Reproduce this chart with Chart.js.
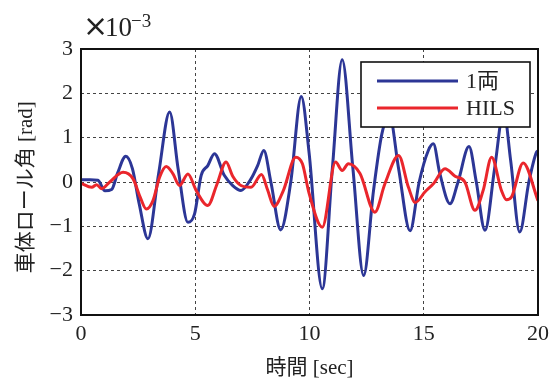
<!DOCTYPE html>
<html>
<head>
<meta charset="utf-8">
<script src="https://cdn.jsdelivr.net/npm/chart.js@4/dist/chart.umd.min.js"></script>
<style>
  body { margin: 0; background: #fff; }
  #wrap { width: 555px; height: 381px; }
</style>
</head>
<body>
<div id="wrap"><canvas id="rollChart" width="555" height="381"></canvas></div>
<script>
// 時間 [sec] と 車体ロール角 [×10^-3 rad]
const singleTime = [0, 0.4, 0.74, 1.05, 1.34, 1.6, 1.96, 2.25, 2.55, 2.93, 3.4, 3.88, 4.25, 4.68, 4.97, 5.26, 5.55, 5.84, 6.27, 6.64, 7.0, 7.44, 7.73, 8.0, 8.31, 8.74, 9.18, 9.64, 9.98, 10.56, 11.0, 11.43, 11.9, 12.37, 12.8, 13.17, 13.5, 13.9, 14.4, 14.8, 15.2, 15.42, 15.7, 16.15, 16.5, 16.98, 17.3, 17.68, 18.1, 18.5, 18.8, 19.2, 19.6, 19.93, 20];
const singleRoll = [0.05, 0.05, 0.04, -0.2, -0.17, 0.2, 0.58, 0.3, -0.5, -1.28, 0.2, 1.58, 0.3, -0.91, -0.72, 0.15, 0.37, 0.64, 0.15, -0.08, -0.19, 0.07, 0.37, 0.71, 0, -1.08, 0, 1.93, 0.67, -2.41, 0.3, 2.76, 0.3, -2.11, -0.2, 1.09, 1.5, 0.3, -1.1, 0, 0.71, 0.86, 0.2, -0.49, 0, 0.8, 0, -1.09, 0.3, 1.6, 0.5, -1.13, 0, 0.67, 0.7];

const hilsTime = [0, 0.47, 0.68, 0.9, 1.26, 1.84, 2.28, 2.59, 2.86, 3.15, 3.44, 3.73, 4.02, 4.31, 4.68, 5.04, 5.55, 5.95, 6.35, 6.64, 7.0, 7.44, 7.9, 8.16, 8.45, 8.85, 9.4, 9.69, 9.98, 10.56, 11.14, 11.43, 11.7, 12.21, 12.86, 13.3, 13.9, 14.33, 14.63, 15.06, 15.42, 15.93, 16.37, 16.8, 17.24, 17.6, 17.97, 18.4, 18.62, 18.84, 19.35, 20];
const hilsRoll = [-0.03, -0.12, -0.06, -0.15, 0, 0.22, 0.07, -0.34, -0.61, -0.42, 0.11, 0.35, 0.19, -0.08, 0.18, -0.19, -0.53, -0.05, 0.45, 0.13, -0.08, -0.12, 0.17, -0.17, -0.55, -0.2, 0.56, 0.41, -0.25, -1.02, 0.45, 0.26, 0.41, 0.19, -0.68, -0.04, 0.6, -0.12, -0.46, -0.22, -0.04, 0.3, 0.13, 0, -0.64, -0.19, 0.56, -0.19, -0.4, -0.34, 0.43, -0.42];

const xTicks = [0, 5, 10, 15, 20];
const yTicks = [-3, -2, -1, 0, 1, 2, 3];
const seriesNames = ['1両', 'HILS'];

const serif = '"Liberation Serif", "Noto Sans CJK JP", serif';
const blue = 'rgb(44, 54, 150)';
const red = 'rgb(234, 38, 44)';

const toPoints = (xs, ys) => xs.map((x, i) => ({ x: x, y: ys[i] }));

// 枠線・凡例・指数表示
const decorPlugin = {
  id: 'decor',
  afterDraw(chart) {
    const { ctx, chartArea: a } = chart;
    ctx.save();
    ctx.strokeStyle = '#111';
    ctx.lineWidth = 2;
    ctx.strokeRect(a.left, a.top, a.right - a.left, a.bottom - a.top);

    // ×10^-3
    ctx.fillStyle = '#222';
    ctx.textBaseline = 'alphabetic';
    ctx.textAlign = 'left';
    ctx.font = '30px "DejaVu Sans", sans-serif';
    ctx.fillText('×', 83, 36);
    ctx.font = '27px ' + serif;
    ctx.fillText('10', 105, 36);
    ctx.font = '19px ' + serif;
    ctx.fillText('−3', 131, 27);

    // 凡例
    const bx = 361, by = 62, bw = 169, bh = 65;
    ctx.fillStyle = '#fff';
    ctx.fillRect(bx, by, bw, bh);
    ctx.strokeStyle = '#111';
    ctx.lineWidth = 1.6;
    ctx.strokeRect(bx, by, bw, bh);
    const rows = [81, 108];
    chart.data.datasets.forEach((ds, i) => {
      ctx.strokeStyle = ds.borderColor;
      ctx.lineWidth = 3;
      ctx.beginPath();
      ctx.moveTo(377, rows[i]);
      ctx.lineTo(458, rows[i]);
      ctx.stroke();
      ctx.fillStyle = '#222';
      ctx.font = '22px ' + serif;
      ctx.textBaseline = 'middle';
      ctx.fillText(ds.label, 466, rows[i] + 1);
    });
    ctx.restore();
  }
};

new Chart(document.getElementById('rollChart').getContext('2d'), {
  type: 'line',
  data: {
    datasets: [
      { label: seriesNames[0], data: toPoints(singleTime, singleRoll), borderColor: blue, borderWidth: 3, pointRadius: 0, cubicInterpolationMode: 'monotone', order: 2 },
      { label: seriesNames[1], data: toPoints(hilsTime, hilsRoll), borderColor: red, borderWidth: 3, pointRadius: 0, cubicInterpolationMode: 'monotone', order: 1 }
    ]
  },
  options: {
    responsive: false,
    animation: false,
    layout: { padding: { top: 49, right: 15, left: 0, bottom: 0 } },
    plugins: { legend: { display: false }, tooltip: { enabled: false } },
    scales: {
      x: {
        type: 'linear', min: 0, max: 20,
        afterFit: (s) => { s.height = 66; },
        afterBuildTicks: (s) => { s.ticks = xTicks.map(v => ({ value: v })); },
        ticks: { color: '#222', font: { family: serif, size: 22 }, padding: 6 },
        grid: { color: '#444', lineWidth: 1, drawTicks: false },
        border: { display: false, dash: [3, 3] },
        title: { display: true, text: '時間 [sec]', color: '#222', font: { family: serif, size: 21 }, padding: { top: 0, bottom: 0 } }
      },
      y: {
        min: -3, max: 3,
        afterFit: (s) => { s.width = 81; },
        afterBuildTicks: (s) => { s.ticks = yTicks.map(v => ({ value: v })); },
        ticks: { color: '#222', font: { family: serif, size: 22 }, padding: 8, callback: (v) => (v < 0 ? '−' + Math.abs(v) : String(v)) },
        grid: { color: '#444', lineWidth: 1, drawTicks: false },
        border: { display: false, dash: [3, 3] },
        title: { display: true, text: '車体ロール角 [rad]  ', color: '#222', font: { family: serif, size: 21 }, padding: { top: 14, bottom: 0 } }
      }
    }
  },
  plugins: [decorPlugin]
});
</script>
</body>
</html>
